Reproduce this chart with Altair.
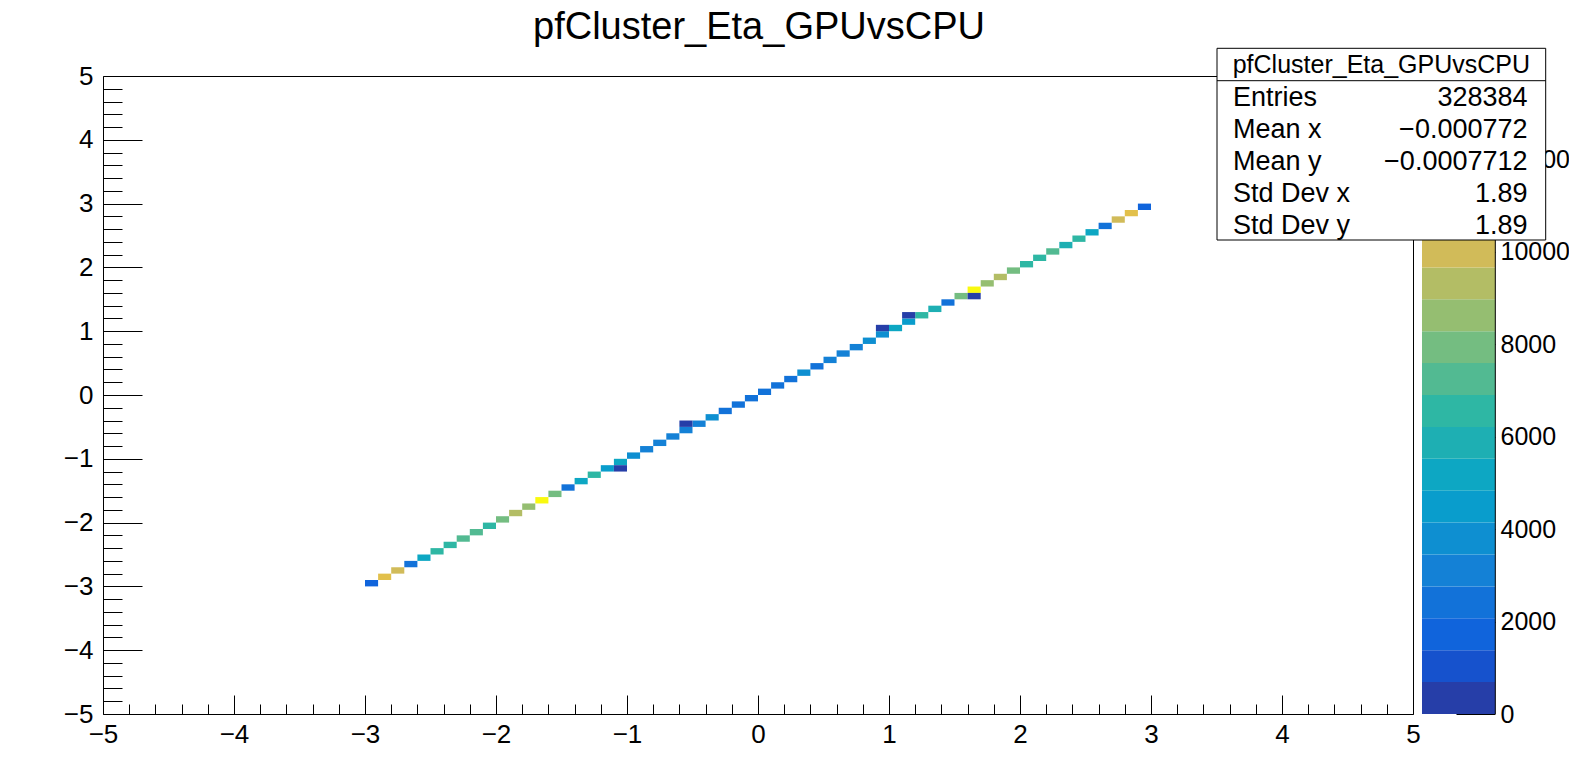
import altair as alt
import pandas as pd

# ---------------- data ----------------
TITLE = "pfCluster_Eta_GPUvsCPU"

# lower edges of the filled diagonal bins (bin width 0.1)
eta_lo = [-3.0, -2.9, -2.8, -2.7, -2.6, -2.5, -2.4, -2.3, -2.2, -2.1,
          -2.0, -1.9, -1.8, -1.7, -1.6, -1.5, -1.4, -1.3, -1.2, -1.1,
          -1.0, -0.9, -0.8, -0.7, -0.6, -0.5, -0.4, -0.3, -0.2, -0.1,
          0.0, 0.1, 0.2, 0.3, 0.4, 0.5, 0.6, 0.7, 0.8, 0.9,
          1.0, 1.1, 1.2, 1.3, 1.4, 1.5, 1.6, 1.7, 1.8, 1.9,
          2.0, 2.1, 2.2, 2.3, 2.4, 2.5, 2.6, 2.7, 2.8, 2.9]
diag_counts = [1670, 10640, 9950, 2360, 5120, 6500, 6480, 7190, 7200, 6510,
               7880, 9260, 8570, 13760, 7870, 2350, 5130, 6490, 4430, 5110,
               3740, 3050, 3040, 3060, 3030, 3050, 3730, 2370, 2360, 2350,
               2350, 2360, 2370, 3750, 2340, 3040, 3050, 3030, 3720, 3740,
               5120, 4420, 6490, 5810, 2350, 7880, 13800, 8560, 9270, 7870,
               6500, 6480, 7200, 5800, 6510, 5120, 2360, 9960, 10650, 1660]
# off-diagonal low-count cells
off_x_lo = [-1.1, -0.6, 0.9, 1.1, 1.6]
off_y_lo = [-1.2, -0.5, 1.0, 1.2, 1.5]
off_counts = [150, 180, 170, 160, 190]
BIN_W = 0.1

axis_ticks = [-5, -4, -3, -2, -1, 0, 1, 2, 3, 4, 5]
minor_ticks = [round(m + 0.2 * k, 1) for m in range(-5, 5) for k in (1, 2, 3, 4)]
z_ticks = [0, 2000, 4000, 6000, 8000, 10000, 12000]
Z_MAX = 13800
N_CONTOURS = 20

stat_names = ["Entries", "Mean x", "Mean y", "Std Dev x", "Std Dev y"]
stat_values = ["328384", "\u22120.000772", "\u22120.0007712", "1.89", "1.89"]

# ---------------- ROOT kBird palette ----------------
stops = [0.0000, 0.1250, 0.2500, 0.3750, 0.5000, 0.6250, 0.7500, 0.8750, 1.0000]
red = [0.2082, 0.0592, 0.0780, 0.0232, 0.1802, 0.5301, 0.8186, 0.9956, 0.9764]
green = [0.1664, 0.3599, 0.5041, 0.6419, 0.7178, 0.7492, 0.7328, 0.7862, 0.9832]
blue = [0.5293, 0.8684, 0.8385, 0.7914, 0.6425, 0.4662, 0.3499, 0.1968, 0.0539]


def root_palette(n=255):
    cols = []
    for g in range(1, len(stops)):
        nseg = int(n * stops[g]) - int(n * stops[g - 1])
        for c in range(nseg):
            f = c / nseg
            r = red[g - 1] + f * (red[g] - red[g - 1])
            gg = green[g - 1] + f * (green[g] - green[g - 1])
            b = blue[g - 1] + f * (blue[g] - blue[g - 1])
            cols.append("#%02x%02x%02x" % (int(r * 255 + 0.5), int(gg * 255 + 0.5), int(b * 255 + 0.5)))
    return cols


pal = root_palette()
band_colors = [pal[min(int((i + 0.99) * len(pal) / N_CONTOURS), len(pal) - 1)] for i in range(N_CONTOURS)]
thresholds = [Z_MAX * i / N_CONTOURS for i in range(1, N_CONTOURS)]

cells = pd.DataFrame({
    "x0": eta_lo + off_x_lo,
    "y0": eta_lo + off_y_lo,
    "n": diag_counts + off_counts,
})
bands = pd.DataFrame({
    "lo": [Z_MAX * i / N_CONTOURS for i in range(N_CONTOURS)],
    "hi": [Z_MAX * (i + 1) / N_CONTOURS for i in range(N_CONTOURS)],
})
bands["mid"] = (bands["lo"] + bands["hi"]) / 2
stats = pd.DataFrame({"name": stat_names, "value": stat_values})
one = pd.DataFrame({"a": [0]})

# ---------------- layout ----------------
W, H = 1310, 638
FONT = "Liberation Sans"
LAB = 26

cscale = alt.Scale(type="threshold", domain=thresholds, range=band_colors)


def xs():
    return alt.Scale(domain=[-5, 5], nice=False, zero=False)


def ys():
    return alt.Scale(domain=[-5, 5], nice=False, zero=False)


heat = alt.Chart(cells).mark_rect(strokeWidth=0).transform_calculate(
    x1=f"datum.x0 + {BIN_W}", y1=f"datum.y0 + {BIN_W}"
).encode(
    x=alt.X("x0:Q", scale=xs(), title=None,
            axis=alt.Axis(orient="bottom", values=axis_ticks, ticks=False, domain=False, grid=False,
                          labelPadding=7, labelFlush=False, labelOverlap=False, labelFontSize=LAB, format="d")),
    x2="x1:Q",
    y=alt.Y("y0:Q", scale=ys(), title=None,
            axis=alt.Axis(orient="left", values=axis_ticks, ticks=False, domain=False, grid=False,
                          labelPadding=10, labelFlush=False, labelOverlap=False, labelFontSize=LAB,
                          labelBaseline="middle", format="d")),
    y2="y1:Q",
    color=alt.Color("n:Q", scale=cscale, legend=None),
)

tick_df = pd.DataFrame({"v": axis_ticks})
major = alt.Chart(tick_df).mark_point(opacity=0).encode(
    x=alt.X("v:Q", scale=xs(), title=None,
            axis=alt.Axis(orient="top", offset=-H, values=axis_ticks, labels=False, domain=False,
                          grid=False, tickSize=19)),
    y=alt.Y("v:Q", scale=ys(), title=None,
            axis=alt.Axis(orient="right", offset=-W, values=axis_ticks, labels=False, domain=False,
                          grid=False, tickSize=39)),
)
minor_df = pd.DataFrame({"v": minor_ticks})
minor = alt.Chart(minor_df).mark_point(opacity=0).encode(
    x=alt.X("v:Q", scale=xs(), title=None,
            axis=alt.Axis(orient="top", offset=-H, values=minor_ticks, labels=False, domain=False,
                          grid=False, tickSize=10)),
    y=alt.Y("v:Q", scale=ys(), title=None,
            axis=alt.Axis(orient="right", offset=-W, values=minor_ticks, labels=False, domain=False,
                          grid=False, tickSize=19)),
)

CB_X0, CB_X1 = 1319, 1392.3
zbar = alt.Chart(bands).mark_rect(strokeWidth=0).encode(
    x=alt.value(CB_X0), x2=alt.value(CB_X1),
    y=alt.Y("lo:Q", scale=alt.Scale(domain=[0, Z_MAX], nice=False, zero=False), title=None,
            axis=alt.Axis(orient="right", offset=43, values=z_ticks, tickSize=39, labelPadding=5,
                          domain=False, grid=False, labelFlush=False, labelOverlap=False,
                          labelFontSize=25, labelBaseline="middle", format="d")),
    y2="hi:Q",
    color=alt.Color("mid:Q", scale=cscale, legend=None),
)
zline = alt.Chart(one).mark_rule(color="black", strokeWidth=1).encode(
    x=alt.value(CB_X1), y=alt.value(0), y2=alt.value(H))

BX0, BX1, BY0, BY1 = 1114, 1442.7, -27.7, 164
box = alt.Chart(one).mark_rect(fill="white", stroke="black", strokeWidth=1).encode(
    x=alt.value(BX0), x2=alt.value(BX1), y=alt.value(BY0), y2=alt.value(BY1))
sep = alt.Chart(one).mark_rule(color="black", strokeWidth=1).encode(
    x=alt.value(BX0), x2=alt.value(BX1), y=alt.value(4.7))
header = alt.Chart(one).mark_text(text=TITLE, font=FONT, fontSize=25, align="center",
                                  baseline="middle", color="black").encode(
    x=alt.value((BX0 + BX1) / 2), y=alt.value(-11.5))
row_scale = alt.Scale(type="point", range=[21.5, 149.5], padding=0)
names = alt.Chart(stats).mark_text(font=FONT, fontSize=27, align="left", baseline="middle",
                                   color="black").encode(
    x=alt.value(1130),
    y=alt.Y("name:N", sort=None, scale=row_scale, axis=None),
    text="name:N")
vals = alt.Chart(stats).mark_text(font=FONT, fontSize=27, align="right", baseline="middle",
                                  color="black").encode(
    x=alt.value(1424.5),
    y=alt.Y("name:N", sort=None, scale=row_scale, axis=None),
    text="value:N")

title = alt.Chart(one).mark_text(text=TITLE, font=FONT, fontSize=38, align="center",
                                 baseline="alphabetic", color="black").encode(
    x=alt.value(W / 2 + 1), y=alt.value(-37))

chart = alt.layer(
    heat, major, minor, zbar, zline, box, sep, header, names, vals, title
).resolve_scale(
    x="independent", y="independent"
).properties(
    width=W, height=H,
    autosize=alt.AutoSizeParams(type="none"),
    padding={"left": 95, "top": 68, "right": 156, "bottom": 36},
    background="white",
).configure_view(
    stroke="black", strokeWidth=1
).configure_axis(
    labelFont=FONT, labelColor="black", tickColor="black", tickWidth=1,
)

chart.save("out.html", embed_options={"renderer": "svg", "actions": False})
